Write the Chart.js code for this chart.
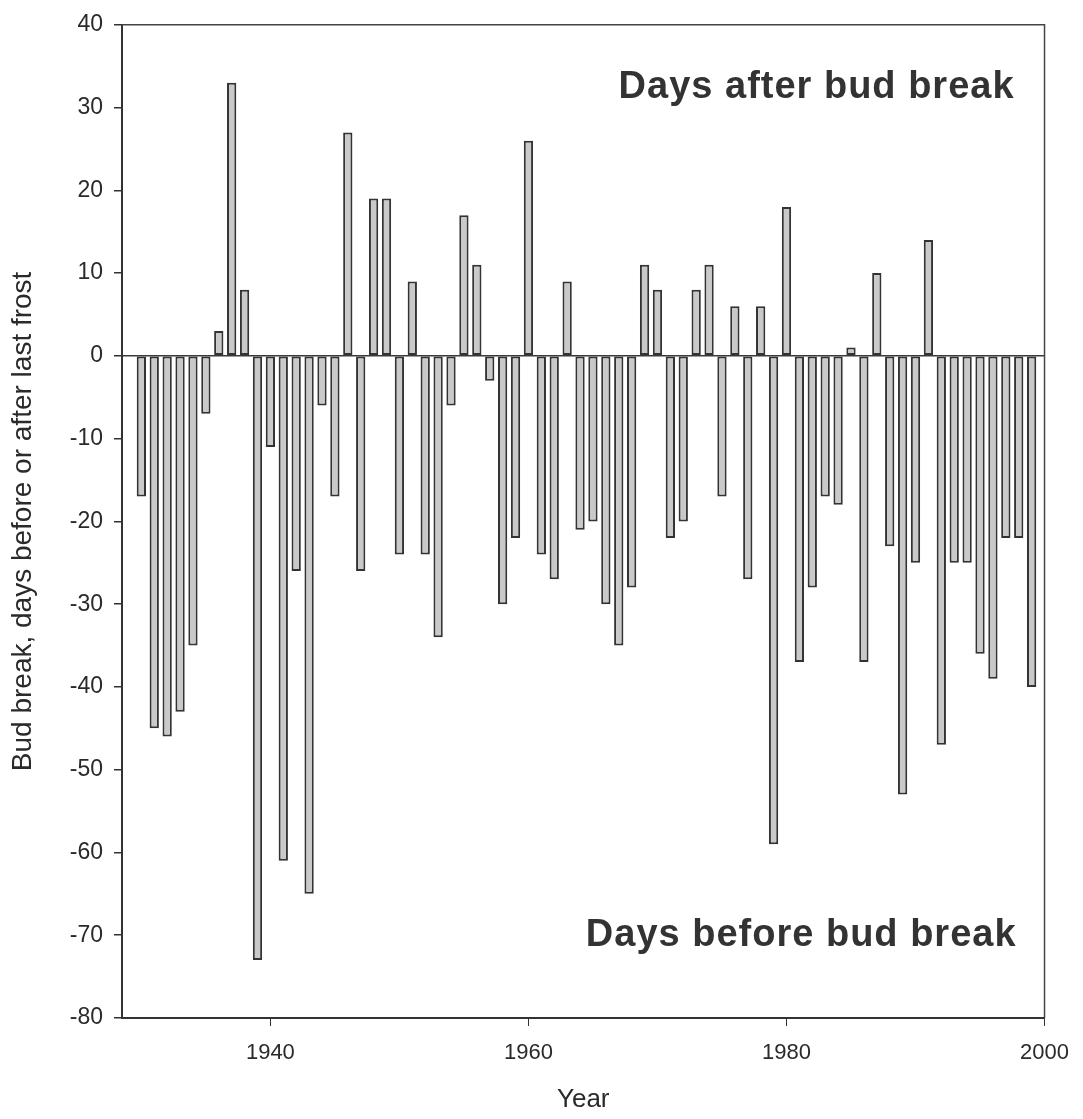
<!DOCTYPE html>
<html>
<head>
<meta charset="utf-8">
<script src="https://cdn.jsdelivr.net/npm/chart.js@4.4.1/dist/chart.umd.min.js"></script>
<style>
  html, body { margin: 0; padding: 0; background: #fff; }
  #wrap { width: 1083px; height: 1119px; }
</style>
</head>
<body>
<div id="wrap"><canvas id="budChart"></canvas></div>
<script>
const years = [
  1930, 1931, 1932, 1933, 1934, 1935, 1936, 1937, 1938, 1939,
  1940, 1941, 1942, 1943, 1944, 1945, 1946, 1947, 1948, 1949,
  1950, 1951, 1952, 1953, 1954, 1955, 1956, 1957, 1958, 1959,
  1960, 1961, 1962, 1963, 1964, 1965, 1966, 1967, 1968, 1969,
  1970, 1971, 1972, 1973, 1974, 1975, 1976, 1977, 1978, 1979,
  1980, 1981, 1982, 1983, 1984, 1985, 1986, 1987, 1988, 1989,
  1990, 1991, 1992, 1993, 1994, 1995, 1996, 1997, 1998, 1999
];

// days between bud break and last frost (+ = frost after bud break)
const daysDiff = [
  -17, -45, -46, -43, -35, -7, 3, 33, 8, -73,
  -11, -61, -26, -65, -6, -17, 27, -26, 19, 19,
  -24, 9, -24, -34, -6, 17, 11, -3, -30, -22,
  26, -24, -27, 9, -21, -20, -30, -35, -28, 11,
  8, -22, -20, 8, 11, -17, 6, -27, 6, -59,
  18, -37, -28, -17, -18, 1, -37, 10, -23, -53,
  -25, 14, -47, -25, -25, -36, -39, -22, -22, -40
];

const xTicks = [1940, 1960, 1980, 2000];
const notes = ['Days after bud break', 'Days before bud break'];

const frameAndNotes = {
  id: 'frameAndNotes',
  afterDatasetsDraw(chart) {
    const { ctx, chartArea: a, scales } = chart;
    ctx.save();
    ctx.strokeStyle = '#444';
    ctx.lineWidth = 1.5;
    ctx.beginPath();
    ctx.moveTo(a.left, a.top);
    ctx.lineTo(a.right, a.top);
    ctx.lineTo(a.right, a.bottom);
    ctx.stroke();

    ctx.fillStyle = '#333';
    ctx.font = 'bold 38px "Liberation Sans", Arial, sans-serif';
    ctx.letterSpacing = '1px';
    ctx.textAlign = 'right';
    ctx.textBaseline = 'middle';
    ctx.fillText(notes[0], a.right - 30, scales.y.getPixelForValue(32.4));
    ctx.fillText(notes[1], a.right - 28, scales.y.getPixelForValue(-70));
    ctx.restore();
  }
};

const ctx = document.getElementById('budChart').getContext('2d');
new Chart(ctx, {
  type: 'bar',
  data: {
    datasets: [{
      data: years.map((yr, i) => ({ x: yr, y: daysDiff[i] })),
      backgroundColor: '#c9c9c9',
      borderColor: '#333',
      borderWidth: 2,
      borderSkipped: false,
      categoryPercentage: 1,
      barPercentage: 0.72
    }]
  },
  options: {
    responsive: true,
    maintainAspectRatio: false,
    animation: false,
    layout: { padding: { top: 21, right: 37, left: 0, bottom: 0 } },
    plugins: {
      legend: { display: false },
      tooltip: { enabled: false }
    },
    scales: {
      x: {
        type: 'linear',
        min: 1928.5,
        max: 2000,
        offset: false,
        afterBuildTicks: s => { s.ticks = xTicks.map(v => ({ value: v })); },
        afterFit: s => { s.height = 101; },
        grid: { offset: false, color: 'rgba(0,0,0,0)', tickColor: '#333', tickLength: 8 },
        border: { display: true, color: '#333', width: 2 },
        ticks: {
          padding: 14,
          color: '#2a2a2a',
          font: { family: '"Liberation Sans", Arial, sans-serif', size: 22 },
          callback: v => String(v)
        },
        title: {
          display: true,
          text: 'Year',
          color: '#2a2a2a',
          padding: { top: 0, bottom: 4 },
          font: { family: '"Liberation Sans", Arial, sans-serif', size: 26 }
        }
      },
      y: {
        min: -80,
        max: 40,
        afterFit: s => { s.width = 122; },
        grid: {
          color: c => (c.tick && c.tick.value === 0 ? '#3a3a3a' : 'rgba(0,0,0,0)'),
          lineWidth: 1.5,
          tickColor: '#333',
          tickLength: 8
        },
        border: { display: true, color: '#333', width: 2 },
        ticks: {
          stepSize: 10,
          padding: 11,
          color: '#2a2a2a',
          font: { family: '"Liberation Sans", Arial, sans-serif', size: 23 }
        },
        title: {
          display: true,
          text: 'Bud break, days before or after last frost',
          color: '#2a2a2a',
          padding: { top: 6, bottom: 0 },
          font: { family: '"Liberation Sans", Arial, sans-serif', size: 28 }
        }
      }
    }
  },
  plugins: [frameAndNotes]
});
</script>
</body>
</html>
